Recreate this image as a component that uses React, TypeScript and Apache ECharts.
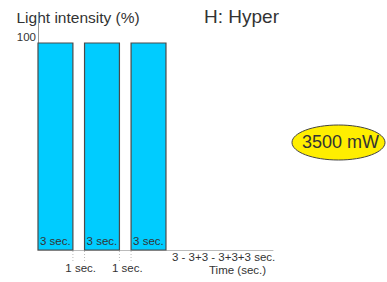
import React, { useEffect, useRef } from "react";
import * as echarts from "echarts";

// Pulses: start time (sec), duration (sec), intensity (%)
const pulseStarts = [0, 4, 8];
const pulseDurations = [3, 3, 3];
const pulseIntensity = [100, 100, 100];
const pulseLabels = ["3 sec.", "3 sec.", "3 sec."];

// Pauses between pulses
const gapStarts = [3, 7];
const gapDurations = [1, 1];
const gapLabels = ["1 sec.", "1 sec."];

const yTickLabels = ["100"];
const FONT = "'Liberation Sans', Arial, sans-serif";

export default function App() {
  const ref = useRef<HTMLDivElement>(null);
  useEffect(() => {
    if (!ref.current) return;
    const chart = echarts.init(ref.current, undefined, { renderer: "svg" });
    const barData = pulseStarts.map((s, i) => [s, s + pulseDurations[i], pulseIntensity[i], pulseLabels[i]]);
    const gapData = gapStarts.map((s, i) => [s, s + gapDurations[i], 0, gapLabels[i]]);
    chart.setOption({
      animation: false,
      grid: { left: 38, right: 114, top: 13, bottom: 32 },
      xAxis: {
        type: "value",
        min: 0,
        max: 20.2,
        axisLine: { show: true, lineStyle: { color: "#bbb", width: 1 } },
        axisTick: { show: false },
        axisLabel: { show: false },
        splitLine: { show: false },
      },
      yAxis: {
        type: "value",
        min: 0,
        max: 114.5,
        interval: 100,
        axisLine: { show: true, lineStyle: { color: "#999", width: 1 } },
        axisTick: { show: false },
        splitLine: { show: false },
        axisLabel: {
          margin: 2,
          fontSize: 11.5,
          fontFamily: FONT,
          color: "#333",
          verticalAlign: "bottom",
          formatter: (v: number) => (yTickLabels.includes(String(v)) ? String(v) : ""),
        },
      },
      series: [
        {
          type: "custom",
          clip: false,
          data: barData,
          encode: { x: [0, 1], y: 2 },
          renderItem: (params: any, api: any) => {
            const p0 = api.coord([api.value(0), api.value(2)]);
            const p1 = api.coord([api.value(1), 0]);
            const label = barData[params.dataIndex][3] as string;
            return {
              type: "group",
              children: [
                {
                  type: "rect",
                  shape: { x: p0[0], y: p0[1], width: p1[0] - p0[0], height: p1[1] - p0[1] },
                  style: { fill: "#00ccff", stroke: "#4a4a4a", lineWidth: 1.2 },
                },
                {
                  type: "text",
                  x: p0[0] + 2,
                  y: p1[1] - 9,
                  style: {
                    text: label,
                    fontSize: 11.5,
                    fontFamily: FONT,
                    fill: "#333",
                    verticalAlign: "middle",
                    align: "left",
                  },
                },
              ],
            };
          },
        },
        {
          type: "custom",
          clip: false,
          data: gapData,
          encode: { x: [0, 1], y: 2 },
          renderItem: (params: any, api: any) => {
            const a = api.coord([api.value(0), 0]);
            const b = api.coord([api.value(1), 0]);
            const label = gapData[params.dataIndex][3] as string;
            const ls = { stroke: "#bbb", lineWidth: 1, lineDash: [1, 2] };
            return {
              type: "group",
              children: [
                { type: "line", shape: { x1: a[0], y1: a[1] + 1, x2: a[0], y2: a[1] + 13 }, style: ls },
                { type: "line", shape: { x1: b[0], y1: b[1] + 1, x2: b[0], y2: b[1] + 13 }, style: ls },
                {
                  type: "text",
                  x: (a[0] + b[0]) / 2 + 2,
                  y: a[1] + 18,
                  style: {
                    text: label,
                    fontSize: 11.5,
                    fontFamily: FONT,
                    fill: "#333",
                    verticalAlign: "middle",
                    align: "center",
                  },
                },
              ],
            };
          },
        },
      ],
      graphic: [
        {
          type: "text",
          left: 16.5,
          top: 9,
          style: { text: "Light intensity (%)", fontSize: 15.5, fontFamily: FONT, fill: "#333" },
        },
        {
          type: "text",
          left: 204,
          top: 7,
          style: { text: "H: Hyper", fontSize: 19, fontFamily: FONT, fill: "#333" },
        },
        {
          type: "text",
          left: 172,
          top: 251,
          style: { text: "3 - 3+3 - 3+3+3 sec.", fontSize: 11.5, fontFamily: FONT, fill: "#333" },
        },
        {
          type: "text",
          left: 209,
          top: 264,
          style: { text: "Time (sec.)", fontSize: 11.5, fontFamily: FONT, fill: "#333" },
        },
        {
          type: "ellipse",
          shape: { cx: 338.5, cy: 142.5, rx: 46.5, ry: 17.5 },
          style: { fill: "#ffee00", stroke: "#444", lineWidth: 1 },
        },
        {
          type: "text",
          x: 340.5,
          y: 141.5,
          style: {
            text: "3500 mW",
            fontSize: 18,
            fontFamily: FONT,
            fill: "#333",
            align: "center",
            verticalAlign: "middle",
          },
        },
      ],
    });
    return () => chart.dispose();
  }, []);
  return (
    <div
      ref={ref}
      style={{ position: "absolute", left: 0, top: 0, width: 387, height: 282 }}
    />
  );
}
